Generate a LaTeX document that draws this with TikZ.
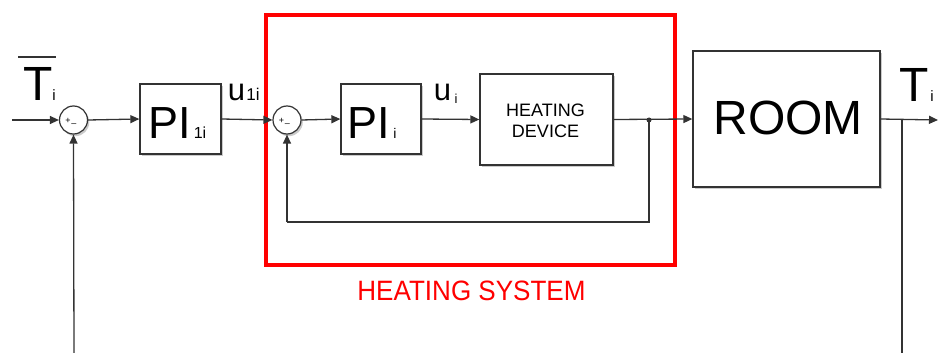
\documentclass[tikz,border=0pt]{standalone}
\usepackage{fontspec}
\setmainfont{Liberation Sans}
\usetikzlibrary{arrows.meta,shadows}
\definecolor{ln}{HTML}{333333}
\begin{document}
\begin{tikzpicture}[x=1pt,y=-1pt,
  line/.style={draw=ln, line width=1.3pt},
  arr/.style={line, -{Triangle[length=9pt,width=8pt]}},
  shad/.style={drop shadow={shadow xshift=1.8pt,shadow yshift=-2.2pt,fill=black!45,opacity=0.45}},
  blk/.style={draw=ln, line width=1.3pt, fill=white, inner sep=0pt, shad, align=center},
  sumnode/.style={circle, draw=ln, line width=1.2pt, fill=white, minimum size=28pt, inner sep=0pt, shad},
  sgn/.style={inner sep=0pt, font=\fontsize{9}{9}\selectfont},
  lbl/.style={inner sep=0pt, anchor=base},
]
\useasboundingbox (0,0) rectangle (938,353);

% heating system frame
\node[draw=red, line width=3.5pt, minimum width=409pt, minimum height=250pt, inner sep=0pt] (hs) at (470.5,140) {};
\node[lbl, text=red, font=\fontsize{28}{28}\selectfont] (hslbl) at (471.5,300) {\addfontfeature{FakeStretch=0.93}HEATING SYSTEM};

% blocks
\node[sumnode] (s1) at (73.5,120) {};
\node[sgn] (s1p) at (68,120.5) {+};
\node[sgn] (s1m) at (74,125.5) {–};
\node[blk, minimum width=81pt, minimum height=70pt] (pi1) at (180.5,119) {};
\node[lbl, font=\fontsize{45}{45}\selectfont] (pi1t) at (170,138.5) {PI};
\node[lbl, font=\fontsize{16}{16}\selectfont] (pi1s) at (200,138.5) {1i};

\node[sumnode] (s2) at (287,120) {};
\node[sgn] (s2p) at (281.5,120.5) {+};
\node[sgn] (s2m) at (287.5,125.5) {–};
\node[blk, minimum width=80pt, minimum height=70pt] (pi2) at (381,119) {};
\node[lbl, font=\fontsize{45}{45}\selectfont] (pi2t) at (369,138.5) {PI};
\node[lbl, font=\fontsize{14}{14}\selectfont] (pi2s) at (395,138.5) {i};

\node[blk, minimum width=133pt, minimum height=91pt] (hd) at (546.5,119.5) {};
\node[lbl, font=\fontsize{18}{18}\selectfont] (hdt1) at (545.5,117) {HEATING};
\node[lbl, font=\fontsize{18}{18}\selectfont] (hdt2) at (545.5,138) {DEVICE};

\node[blk, minimum width=187pt, minimum height=136pt] (room) at (786.5,119) {};
\node[lbl, font=\fontsize{48}{48}\selectfont] (roomt) at (788,135) {ROOM};

% signal labels
\node[lbl, font=\fontsize{48}{48}\selectfont] (tref) at (38.5,100) {T};
\node[lbl, font=\fontsize{15}{15}\selectfont] (trefs) at (54,100) {i};
\draw[ln, line width=1.8pt] (18,57) -- (56,57);
\node[lbl, font=\fontsize{31}{31}\selectfont] (u1) at (236.5,100) {u};
\node[lbl, font=\fontsize{17}{17}\selectfont] (u1s) at (253,100) {1i};
\node[lbl, font=\fontsize{31}{31}\selectfont] (u2) at (442.5,100) {u};
\node[lbl, font=\fontsize{13}{13}\selectfont] (u2s) at (456,103) {i};
\node[lbl, font=\fontsize{48}{48}\selectfont] (tout) at (914,102) {T};
\node[lbl, font=\fontsize{15}{15}\selectfont] (touts) at (932,102) {i};

% connector points
\coordinate (in) at (12,120);
\coordinate (out) at (938,120);
\coordinate (j1) at (649,120);
\coordinate (fbr) at (649,222);
\coordinate (fbl) at (287,222);
\coordinate (j2) at (902,120);
\coordinate (br) at (902,356);
\coordinate (bl) at (74,356);

% connectors
\draw[arr] (in) -- (s1.west);
\draw[arr] (s1.east) -- (pi1.west);
\draw[arr] (pi1.east) -- (s2.west);
\draw[arr] (s2.east) -- (pi2.west);
\draw[arr] (pi2.east) -- (hd.west);
\draw[arr] (hd.east) -- (room.west);
\draw[line] (j1) -- (fbr) -- (fbl);
\draw[arr] (fbl) -- (s2.south);
\fill[ln] (j1) circle (2.5pt);
\draw[arr] (room.east) -- (out);
\draw[line] (j2) -- (br);
\draw[arr] (bl) -- (s1.south);
\end{tikzpicture}
\end{document}
